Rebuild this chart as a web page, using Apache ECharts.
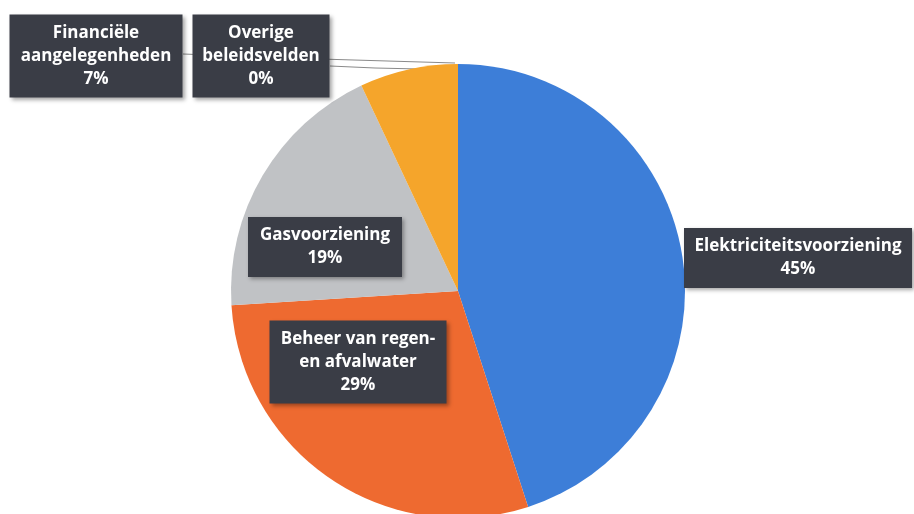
<!DOCTYPE html>
<html>
<head>
<meta charset="utf-8">
<script src="https://cdn.jsdelivr.net/npm/echarts@6/dist/echarts.min.js"></script>
<style>
  html, body { margin: 0; padding: 0; background: #fff; }
  #chart { width: 914px; height: 514px; }
</style>
</head>
<body>
<div id="chart"></div>
<script>
// gegevens
var categories = [
	'Elektriciteitsvoorziening',
	'Beheer van regen-\nen afvalwater',
	'Gasvoorziening',
	'Financiële\naangelegenheden',
	'Overige\nbeleidsvelden'
];
var values = [45, 29, 19, 7, 0];
var colors = ['#3d7ed8', '#ee6a30', '#c0c2c5', '#f5a52b', '#9a9a9a'];

// label boxes: centre + inner width, and leader lines (layout only)
var labelPos = [[798, 258], [358, 362], [325, 247], [96, 56], [261, 56]];
var labelWidth = [214, 163, 140, 159, 123];
var leaderLines = [null, null, null,
	[[183, 54], [320, 59], [455, 63]],
	[[330, 66], [375, 68], [420, 69]]
];

var chart = echarts.init(document.getElementById('chart'));

var seriesData = [];
for (var i = 0; i < categories.length; i++) {
	seriesData.push({
		name: categories[i],
		value: values[i],
		itemStyle: { color: colors[i] },
		label: { width: labelWidth[i] },
		labelLine: { show: leaderLines[i] != null }
	});
}

var option = {
	backgroundColor: '#ffffff',
	animation: false,
	series: [{
		type: 'pie',
		center: [458, 291],
		radius: 227,
		startAngle: 90,
		clockwise: true,
		avoidLabelOverlap: false,
		percentPrecision: 0,
		itemStyle: { borderWidth: 0 },
		label: {
			show: true,
			position: 'outside',
			formatter: '{b}\n{d}%',
			color: '#ffffff',
			fontFamily: 'Open Sans',
			fontWeight: 'bold',
			fontSize: 17,
			lineHeight: 23,
			align: 'center',
			overflow: 'none',
			backgroundColor: '#3a3d46',
			padding: [7, 7],
			shadowColor: 'rgba(0,0,0,0.35)',
			shadowBlur: 4,
			shadowOffsetX: 2,
			shadowOffsetY: 2
		},
		labelLine: {
			lineStyle: { color: '#8a8a8a', width: 1 }
		},
		labelLayout: function (params) {
			var p = labelPos[params.dataIndex];
			var res = { x: p[0], y: p[1], align: 'center', verticalAlign: 'middle' };
			if (leaderLines[params.dataIndex]) {
				res.labelLinePoints = leaderLines[params.dataIndex];
			}
			return res;
		},
		data: seriesData
	}]
};

chart.setOption(option);
</script>
</body>
</html>
